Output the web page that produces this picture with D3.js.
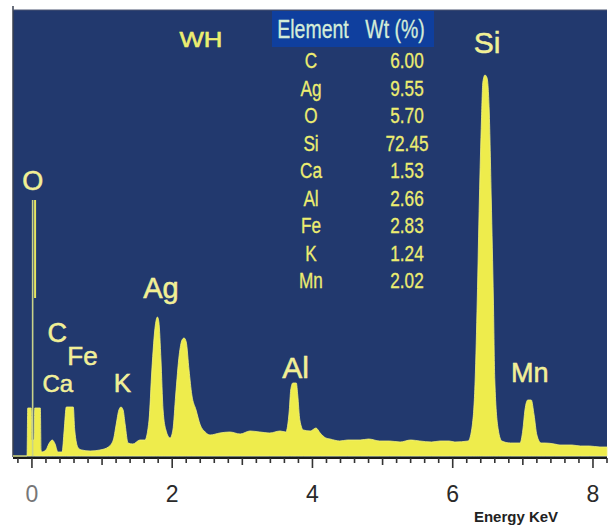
<!DOCTYPE html>
<html><head><meta charset="utf-8">
<script src="https://cdn.jsdelivr.net/npm/d3@7"></script>
<style>
html,body{margin:0;padding:0;background:#fff;}
svg{display:block;}
</style></head>
<body><svg id="c" width="610" height="526"></svg>
<script>
// Spectrum: energy (keV) and counts (arbitrary units)
const energy = [-0.27,-0.07,-0.06,-0.01,0.00,0.03,0.04,0.12,0.13,0.14,0.20,0.24,0.29,0.33,0.37,0.43,0.46,0.49,0.59,0.61,0.66,0.71,0.83,0.97,1.09,1.16,1.20,1.24,1.27,1.30,1.33,1.37,1.44,1.54,1.61,1.67,1.71,1.76,1.79,1.81,1.84,1.87,1.91,1.97,2.01,2.05,2.10,2.14,2.17,2.20,2.24,2.28,2.34,2.40,2.47,2.54,2.68,2.82,2.97,3.11,3.25,3.39,3.54,3.62,3.67,3.69,3.72,3.77,3.79,3.82,3.87,3.97,4.05,4.11,4.19,4.25,4.39,4.50,4.68,4.80,4.96,5.10,5.25,5.40,5.53,5.70,5.82,5.95,6.03,6.22,6.28,6.32,6.35,6.38,6.41,6.43,6.46,6.49,6.52,6.55,6.58,6.60,6.65,6.70,6.82,6.96,7.00,7.03,7.07,7.12,7.16,7.20,7.26,7.32,7.45,7.53,7.70,7.82,7.95,8.10,8.20];
const counts = [0,0,48,48,16,16,48,48,6,4,6,12,16,12,4,4,26,49,49,26,8,6,5,6,9,16,31,46,49,46,31,13,12,16,16,36,86,131,139,134,96,46,26,18,26,61,101,116,118,114,86,61,46,31,24,21,23,24,22,25,24,23,25,24,46,66,73,73,61,36,26,25,28,23,18,17,15,16,16,17,15,15,14,16,15,14,15,15,14,15,31,76,156,256,336,374,381,378,346,256,156,76,26,15,13,13,26,46,56,56,41,21,13,13,12,11,11,10,10,9,9];

// Thin oxygen lines (energy, top count, bottom count)
const oLineEnergy = [0.01, 0.045];
const oLineTop = [256, 256];
const oLineBottom = [0, 158];

// Peak labels
const peakNames = ["O","C","Fe","Ca","K","Ag","Al","Si","Mn"];
const peakLabelE = [0.01,0.36,0.72,0.37,1.29,1.84,3.76,6.49,7.10];
const peakLabelC = [266,114,91,64,64,158,78,403,74];
const peakLabelSize = [27,27,26,24,26,29,30,30,27];

// Composition table
const tableElements = ["C","Ag","O","Si","Ca","Al","Fe","K","Mn"];
const tableWt = ["6.00","9.55","5.70","72.45","1.53","2.66","2.83","1.24","2.02"];

const tickValues = [0,2,4,6,8];

const svg = d3.select("#c");
const pL = 13, pR = 607, pT = 10, pB = 457;

const x = d3.scaleLinear().domain([-0.27, 8.2]).range([pL, pR]);
const y = d3.scaleLinear().domain([0, 400]).range([456, 56]);

// panel
svg.append("rect").attr("x", pL).attr("y", pT).attr("width", pR-pL).attr("height", pB-pT)
  .attr("fill", "#22396e");
svg.append("line").attr("x1", pL).attr("x2", pL).attr("y1", 6).attr("y2", pB)
  .attr("stroke", "#3a4150").attr("stroke-width", 1.5);
svg.append("line").attr("x1", pL).attr("x2", pR).attr("y1", pT).attr("y2", pT)
  .attr("stroke", "#4a5570").attr("stroke-width", 1);

const pts = energy.map((e,i)=>[e, counts[i]]);
const area = d3.area().x(d=>x(d[0])).y0(y(0)).y1(d=>y(d[1])).curve(d3.curveMonotoneX);
svg.append("path").datum(pts).attr("d", area).attr("fill", "#eeec4c")
  .attr("stroke", "#f4f27a").attr("stroke-width", 0.8);

// oxygen thin lines
oLineEnergy.forEach((e,i)=>{
  svg.append("line").attr("x1", x(e)).attr("x2", x(e))
    .attr("y1", y(oLineTop[i])).attr("y2", y(oLineBottom[i]))
    .attr("stroke", i===0 ? "#c9d38a" : "#e6e660").attr("stroke-width", i===0 ? 1.6 : 2);
});

// peak labels
peakNames.forEach((n,i)=>{
  svg.append("text").attr("x", x(peakLabelE[i])).attr("y", y(peakLabelC[i]))
    .attr("text-anchor","middle").attr("font-family","Liberation Sans, Arial, sans-serif")
    .attr("font-size", peakLabelSize[i]).attr("fill","#f2f08c")
    .attr("stroke","#f4f2b0").attr("stroke-width",0.5)
    .text(n);
});

// WH label
svg.append("text").attr("transform","translate(201,47) scale(1.12,1)").attr("text-anchor","middle")
  .attr("font-family","Liberation Sans, Arial, sans-serif").attr("font-size",23)
  .attr("fill","#eeee70").attr("stroke","#eeee70").attr("stroke-width",0.6).text("WH");

// table header
svg.append("rect").attr("x", 272).attr("y", 11).attr("width", 162).attr("height", 36).attr("fill", "#0f3f9e");
function condText(tx, ty, s, col, size){
  svg.append("text").attr("transform", `translate(${tx},${ty}) scale(0.78,1)`)
    .attr("text-anchor","middle").attr("font-family","Liberation Sans, Arial, sans-serif")
    .attr("font-size", size).attr("fill", col).attr("stroke", col).attr("stroke-width", 0.3).text(s);
}
condText(313, 38, "Element", "#d4ecd8", 25);
condText(395, 38, "Wt (%)", "#d4ecd8", 25);
const rowY = d3.scalePoint().domain(tableElements).range([68, 288]);
tableElements.forEach((el,i)=>{
  condText(311, rowY(el), el, "#eded70", 22);
  condText(407, rowY(el), tableWt[i], "#eded70", 22);
});

// axis
svg.append("line").attr("x1", pL).attr("x2", pR).attr("y1", 458).attr("y2", 458)
  .attr("stroke", "#1a1a1a").attr("stroke-width", 2);
const minor = d3.range(0, 8.21, 0.2).map(v=>+v.toFixed(1)).concat([-0.2]);
svg.selectAll(".mt").data(minor).enter().append("line")
  .attr("x1", d=>x(d)).attr("x2", d=>x(d)).attr("y1", 458)
  .attr("y2", d=> (Math.abs(d % 2) < 1e-6) ? 468 : (Math.abs(d % 1) < 1e-6 ? 465 : 463))
  .attr("stroke", "#333").attr("stroke-width", 1.6);
svg.selectAll(".tl").data(tickValues).enter().append("text")
  .attr("x", d=>x(d)).attr("y", 502).attr("text-anchor","middle")
  .attr("font-family","Liberation Sans, Arial, sans-serif").attr("font-size",23)
  .attr("fill", d=> d===0 ? "#777" : "#2a2a2a").text(d=>d);
svg.append("text").attr("x", 516).attr("y", 522).attr("text-anchor","middle")
  .attr("font-family","Liberation Sans, Arial, sans-serif").attr("font-size",15)
  .attr("font-weight","bold").attr("fill","#222").text("Energy KeV");
</script></body></html>
